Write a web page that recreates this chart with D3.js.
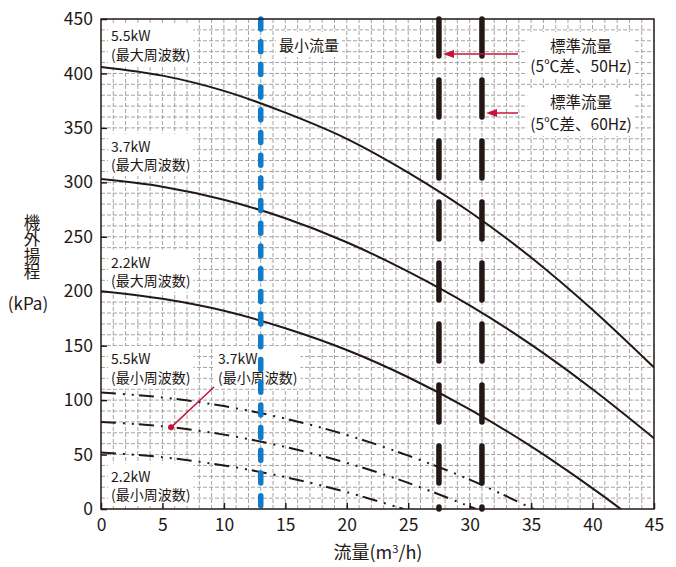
<!DOCTYPE html>
<html><head><meta charset="utf-8">
<script src="https://cdn.jsdelivr.net/npm/d3@7"></script>
<style>
body{margin:0;background:#fff}
text{font-family:"Noto Sans CJK JP","Noto Sans",sans-serif;fill:#231815}
</style>
</head><body><svg id="c" width="676" height="567"></svg>
<script>
// ---- data ----
const xTicks = [0,5,10,15,20,25,30,35,40,45];
const yTicks = [0,50,100,150,200,250,300,350,400,450];

const q55max = [0,5,10,15,20,25,30,35,40,45];
const h55max = [406,398,384,364,340,309,273,231,183,130];
const q37max = [0,5,10,15,20,25,30,35,40,45];
const h37max = [303,296,284,267,245,218,187,151,110,65];
const q22max = [0,5,10,15,20,25,30,35,40,42.3];
const h22max = [200,193,182,166,146,121,91.5,57.5,19,0];

const q55min = [0,5,10,15,20,25,30,35,35.2];
const h55min = [107,102.5,94.5,83,68,49,27,1,0];
const q37min = [0,5,10,15,20,25,30,30.5];
const h37min = [80,76,68.3,57,42.4,24,2.3,0];
const q22min = [0,5,10,15,20,24.6];
const h22min = [52,47.6,40,29.3,15.5,0];

const minFlow = 13;
const stdFlows = [27.5, 31];

// ---- layout ----
const svg = d3.select("#c");
const X0 = 101, X1 = 654, Y0 = 509, Y1 = 19;
const x = d3.scaleLinear().domain([0,45]).range([X0,X1]);
const y = d3.scaleLinear().domain([0,450]).range([Y0,Y1]);
const ink = "#231815";
const red = "#c4143c";

svg.append("defs").append("clipPath").attr("id","clip")
  .append("rect").attr("x",X0).attr("y",Y1).attr("width",X1-X0).attr("height",Y0-Y1);

// grid
const grid = svg.append("g").attr("stroke","#9a9a9a").attr("stroke-width",0.9).attr("stroke-dasharray","4,2");
grid.selectAll(".gv").data(d3.range(1,45)).join("line")
  .attr("x1",d=>x(d)).attr("x2",d=>x(d)).attr("y1",Y1).attr("y2",Y0);
grid.selectAll(".gh").data(d3.range(10,450,10)).join("line")
  .attr("y1",d=>y(d)).attr("y2",d=>y(d)).attr("x1",X0).attr("x2",X1);

const boxLayer = svg.append("g");
const curveLayer = svg.append("g").attr("clip-path","url(#clip)");
const textLayer = svg.append("g");

function label(xp, baselines, lines, opts={}) {
  const g = textLayer.append("g");
  lines.forEach((t,i)=>{
    g.append("text").attr("x",xp).attr("y",baselines[i])
      .attr("font-size",opts.size||14)
      .attr("text-anchor",opts.anchor||"start").text(t);
  });
  const bb = g.node().getBBox();
  const p = opts.pad||3;
  boxLayer.append("rect").attr("x",bb.x-p).attr("y",bb.y-p+1)
    .attr("width",bb.width+2*p).attr("height",bb.height+2*p-2).attr("fill","#fff");
}

// curves
const line = d3.line().curve(d3.curveCatmullRom.alpha(0.5));
function curve(qs, hs, dash) {
  curveLayer.append("path")
    .attr("d", line(qs.map((q,i)=>[x(q), y(hs[i])])))
    .attr("fill","none").attr("stroke",ink).attr("stroke-width",2)
    .attr("stroke-dasharray", dash||null);
}
curve(q55max,h55max);
curve(q37max,h37max);
curve(q22max,h22max);
const dd = "15,7,2,7,2,5";
curve(q55min,h55min,dd);
curve(q37min,h37min,dd);
curve(q22min,h22min,dd);

// vertical reference lines
svg.append("line").attr("x1",x(minFlow)).attr("x2",x(minFlow)).attr("y1",y(450)).attr("y2",y(0))
  .attr("stroke","#0f7cc9").attr("stroke-width",5.5).attr("stroke-linecap","round")
  .attr("stroke-dasharray","10,12.7");
stdFlows.forEach(f=>{
  svg.append("line").attr("x1",x(f)).attr("x2",x(f)).attr("y1",y(450)).attr("y2",y(0))
    .attr("stroke",ink).attr("stroke-width",5.5).attr("stroke-linecap","round")
    .attr("stroke-dasharray","37,24");
});

// frame & axes
svg.append("rect").attr("x",X0).attr("y",Y1).attr("width",X1-X0).attr("height",Y0-Y1)
  .attr("fill","none").attr("stroke",ink).attr("stroke-width",1.5);
svg.append("g").attr("transform",`translate(0,${Y0})`)
  .call(d3.axisBottom(x).tickValues(xTicks).tickSize(-6).tickPadding(10).tickFormat(d3.format("d")))
  .call(g=>{g.select(".domain").remove();
    g.selectAll("line").attr("stroke",ink).attr("stroke-width",1.5);
    g.selectAll("text").attr("font-size",17.5).attr("font-family",null).attr("fill",ink);});
svg.append("g").attr("transform",`translate(${X0},0)`)
  .call(d3.axisLeft(y).tickValues(yTicks).tickSize(-6).tickPadding(8).tickFormat(d3.format("d")))
  .call(g=>{g.select(".domain").remove();
    g.selectAll("line").attr("stroke",ink).attr("stroke-width",1.5);
    g.selectAll("text").attr("font-size",17.5).attr("font-family",null).attr("fill",ink);});

// labels
label(111,[41,59.5],["5.5kW","(最大周波数)"]);
label(111,[151.5,170],["3.7kW","(最大周波数)"]);
label(111,[267.5,286],["2.2kW","(最大周波数)"]);
label(111,[364,382.5],["5.5kW","(最小周波数)"]);
label(218,[364,382.5],["3.7kW","(最小周波数)"]);
label(111,[481.5,500],["2.2kW","(最小周波数)"]);
label(279,[51],["最小流量"],{size:15});
label(581,[52,72],["標準流量","(5℃差、50Hz)"],{size:15.5,anchor:"middle"});
label(581,[108,130],["標準流量","(5℃差、60Hz)"],{size:15.5,anchor:"middle"});

// red arrows
[[518,443,54],[518,486,113]].forEach(a=>{
  svg.append("line").attr("x1",a[0]).attr("x2",a[1]+8).attr("y1",a[2]).attr("y2",a[2])
    .attr("stroke",red).attr("stroke-width",1.5);
  svg.append("path").attr("d",`M${a[1]},${a[2]} L${a[1]+11},${a[2]-4} L${a[1]+11},${a[2]+4} Z`)
    .attr("fill",red);
});
// leader for 3.7kW min
svg.append("line").attr("x1",214).attr("y1",387).attr("x2",x(5.7)).attr("y2",y(75))
  .attr("stroke",red).attr("stroke-width",1.5);
svg.append("circle").attr("cx",x(5.7)).attr("cy",y(75)).attr("r",3).attr("fill",red);

// axis titles (y title: vertical writing, one text)
svg.append("text").attr("x",32).attr("y",214).attr("font-size",16.5)
  .attr("writing-mode","vertical-rl").attr("style","writing-mode:vertical-rl")
  .text("機外揚程");
svg.append("text").attr("x",28).attr("y",310).attr("text-anchor","middle").attr("font-size",17).text("(kPa)");
const xt = svg.append("text").attr("x",378).attr("y",559).attr("text-anchor","middle").attr("font-size",18);
xt.append("tspan").text("流量(m");
xt.append("tspan").attr("font-size",11).attr("dy",-6).text("3");
xt.append("tspan").attr("dy",6).text("/h)");
</script></body></html>
